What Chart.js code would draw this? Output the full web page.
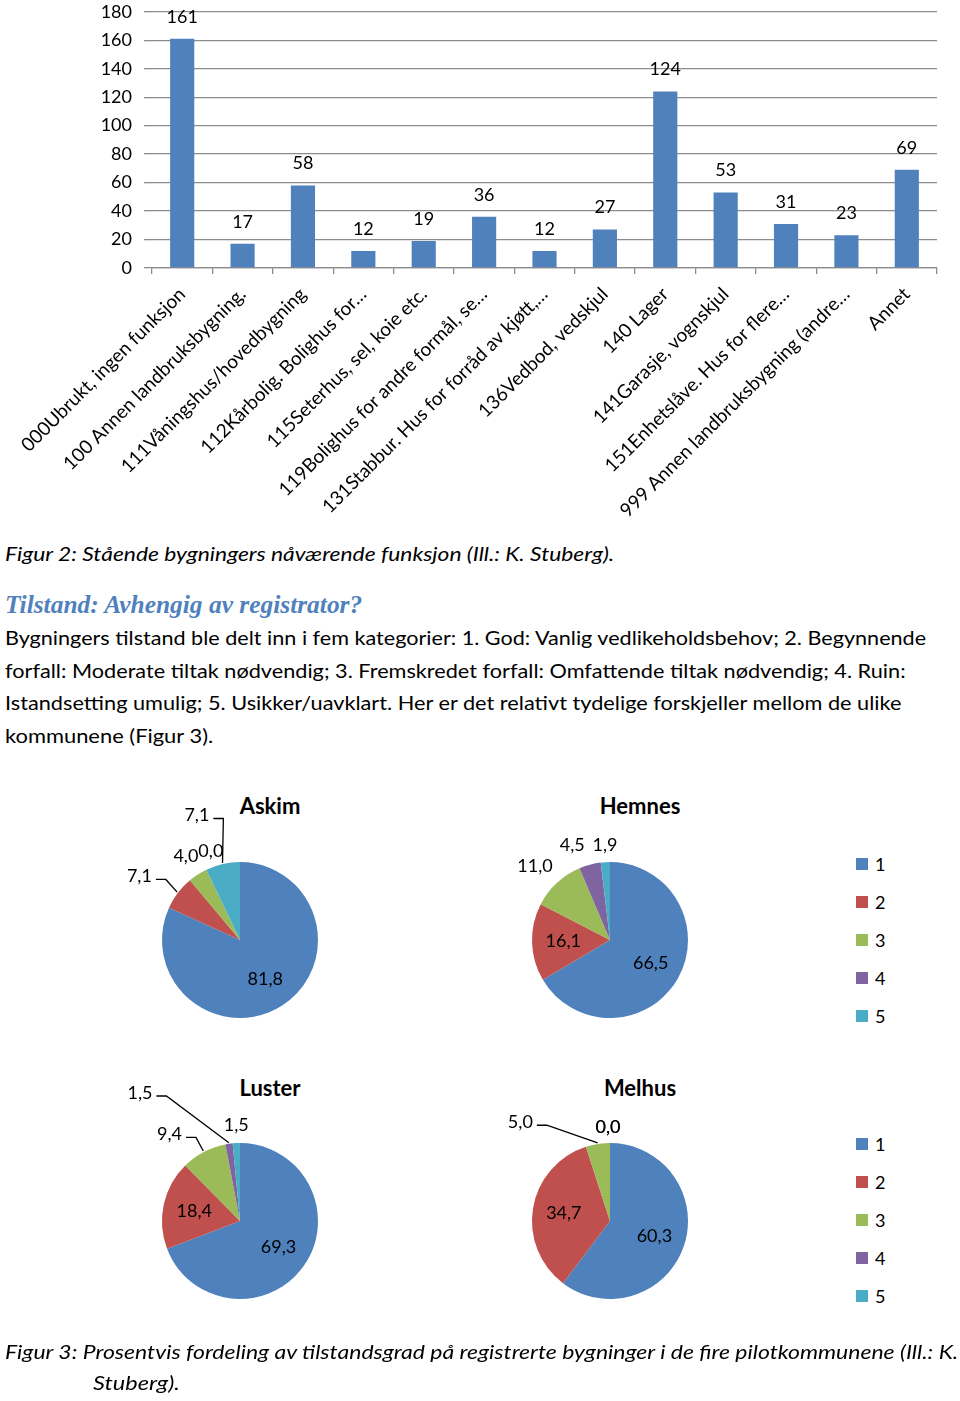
<!DOCTYPE html>
<html lang="no">
<head>
<meta charset="utf-8">
<title>Figur 2 og 3</title>
<script src="https://cdn.jsdelivr.net/npm/chart.js@4.4.1/dist/chart.umd.min.js"></script>
<style>
  html, body { margin: 0; padding: 0; background: #fff; }
  #side { position: relative; width: 960px; height: 1401px; overflow: hidden; font-family: Lato, "Open Sans", sans-serif; color: #000; }
  canvas { position: absolute; }
  .linje { position: absolute; left: 5px; white-space: nowrap; transform-origin: 0 50%; line-height: 30px; height: 30px; font-size: 20px; }
  .kursiv { font-style: italic; }
  .overskrift { font-family: "Liberation Serif", serif; font-weight: bold; font-style: italic; color: #4F81BD; font-size: 26px; }
  .tittel { position: absolute; font-weight: bold; font-size: 22px; line-height: 30px; transform: translateX(-50%); white-space: nowrap; }
  .forklaring { position: absolute; left: 856px; font-size: 18px; }
  .forklaring div { height: 38px; display: flex; align-items: center; }
  .forklaring span { display: inline-block; width: 12px; height: 12px; margin-right: 7px; }
</style>
</head>
<body>
<div id="side">
  <canvas id="stolper" width="960" height="537" style="left:0;top:-11px"></canvas>

  <div class="linje kursiv" style="top:538px" data-w="609">Figur 2: Stående bygningers nåværende funksjon (Ill.: K. Stuberg).</div>
  <div class="linje overskrift" style="top:590px" data-w="357">Tilstand: Avhengig av registrator?</div>
  <div class="linje" style="top:622px" data-w="921">Bygningers tilstand ble delt inn i fem kategorier: 1. God: Vanlig vedlikeholdsbehov; 2. Begynnende</div>
  <div class="linje" style="top:655px" data-w="901">forfall: Moderate tiltak nødvendig; 3. Fremskredet forfall: Omfattende tiltak nødvendig; 4. Ruin:</div>
  <div class="linje" style="top:687px" data-w="896">Istandsetting umulig; 5. Usikker/uavklart. Her er det relativt tydelige forskjeller mellom de ulike</div>
  <div class="linje" style="top:720px" data-w="208">kommunene (Figur 3).</div>

  <div class="tittel" style="left:270px;top:791px">Askim</div>
  <div class="tittel" style="left:640px;top:791px">Hemnes</div>
  <div class="tittel" style="left:270px;top:1073px">Luster</div>
  <div class="tittel" style="left:640px;top:1073px">Melhus</div>

  <canvas id="askim" width="320" height="320" style="left:80px;top:780px"></canvas>
  <canvas id="hemnes" width="320" height="320" style="left:450px;top:780px"></canvas>
  <canvas id="luster" width="320" height="320" style="left:80px;top:1061px"></canvas>
  <canvas id="melhus" width="320" height="320" style="left:450px;top:1061px"></canvas>

  <div class="forklaring" id="forklaring1" style="top:845px"></div>
  <div class="forklaring" id="forklaring2" style="top:1125px"></div>

  <div class="linje kursiv" style="top:1336px" data-w="953">Figur 3: Prosentvis fordeling av tilstandsgrad på registrerte bygninger i de fire pilotkommunene (Ill.: K.</div>
  <div class="linje kursiv" style="top:1367px;left:93px" data-w="87">Stuberg).</div>
</div>

<script>
// Figur 2: bygninger etter funksjon
const funksjoner = [
  "000Ubrukt, ingen funksjon",
  "100 Annen landbruksbygning.",
  "111Våningshus/hovedbygning",
  "112Kårbolig. Bolighus for…",
  "115Seterhus, sel, koie etc.",
  "119Bolighus for andre formål, se…",
  "131Stabbur. Hus for forråd av kjøtt,…",
  "136Vedbod, vedskjul",
  "140 Lager",
  "141Garasje, vognskjul",
  "151Enhetslåve. Hus for flere…",
  "999 Annen landbruksbygning (andre…",
  "Annet"
];
const antall = [161, 17, 58, 12, 19, 36, 12, 27, 124, 53, 31, 23, 69];
const yMaks = 180;
const ySteg = 20;

// Figur 3: tilstandsgrad i prosent per kommune
const grader = ["1", "2", "3", "4", "5"];
const askim = [81.8, 7.1, 4.0, 0.0, 7.1];
const hemnes = [66.5, 16.1, 11.0, 4.5, 1.9];
const luster = [69.3, 18.4, 9.4, 1.5, 1.5];
const melhus = [60.3, 34.7, 5.0, 0.0, 0.0];
const farger = ["#4F81BD", "#C0504D", "#9BBB59", "#8064A2", "#4BACC6"];

const FONT = "Lato";

// tall over stolpene
const stolpeTall = {
  id: "stolpeTall",
  afterDatasetsDraw(chart) {
    const ctx = chart.ctx;
    const meta = chart.getDatasetMeta(0);
    ctx.save();
    ctx.font = "18px " + FONT;
    ctx.fillStyle = "#000";
    ctx.textAlign = "center";
    ctx.textBaseline = "middle";
    meta.data.forEach((bar, i) => {
      ctx.fillText(String(chart.data.datasets[0].data[i]), bar.x, bar.y - 22);
    });
    ctx.restore();
  }
};

// etiketter på kakestykkene, små stykker utenfor (evt. med strek)
const kakeTall = {
  id: "kakeTall",
  afterDatasetsDraw(chart, args, opts) {
    const ctx = chart.ctx;
    const meta = chart.getDatasetMeta(0);
    const verdier = chart.data.datasets[0].data;
    const sum = verdier.reduce((a, b) => a + b, 0);
    const flytt = opts.flytt || {};
    ctx.save();
    ctx.font = "18px " + FONT;
    ctx.fillStyle = "#000";
    ctx.strokeStyle = "#000";
    ctx.lineWidth = 1.3;
    ctx.textAlign = "center";
    ctx.textBaseline = "middle";
    meta.data.forEach((arc, i) => {
      const p = arc.getProps(["x", "y", "startAngle", "endAngle", "outerRadius"], true);
      const midt = (p.startAngle + p.endAngle) / 2;
      const inni = verdier[i] / sum >= 0.12;
      const avstand = inni ? p.outerRadius * 0.6 : p.outerRadius + 22;
      let lx = p.x + Math.cos(midt) * avstand;
      let ly = p.y + Math.sin(midt) * avstand;
      const f = flytt[i];
      if (f) { lx += f[0]; ly += f[1]; }
      const tekst = verdier[i].toFixed(1).replace(".", ",");
      ctx.fillText(tekst, lx, ly);
      if (f && f[2]) {
        const w = ctx.measureText(tekst).width;
        const ex = p.x + Math.cos(midt) * (p.outerRadius + 1);
        const ey = p.y + Math.sin(midt) * (p.outerRadius + 1);
        ctx.beginPath();
        ctx.moveTo(lx + w / 2 + 4, ly + 3);
        ctx.lineTo(lx + w / 2 + 14, ly + 3);
        ctx.lineTo(ex, ey);
        ctx.stroke();
      }
    });
    ctx.restore();
  }
};

new Chart(document.getElementById("stolper"), {
  type: "bar",
  data: {
    labels: funksjoner,
    datasets: [{ data: antall, backgroundColor: "#4F81BD", barPercentage: 0.8, categoryPercentage: 0.5 }]
  },
  options: {
    responsive: false,
    animation: false,
    layout: { padding: { top: 0, right: 23, left: 0, bottom: 0 } },
    plugins: { legend: { display: false }, tooltip: { enabled: false } },
    scales: {
      x: {
        grid: { drawOnChartArea: false, tickLength: 6, color: "#8c8c8c", lineWidth: 1.3, offset: true },
        border: { color: "#8c8c8c", width: 1.3 },
        ticks: { autoSkip: false, maxRotation: 45, minRotation: 45, font: { family: FONT, size: 19 }, color: "#000", padding: 9 },
        afterFit: s => { s.height = 537 - 279; }
      },
      y: {
        min: 0, max: yMaks,
        grid: { color: "#8c8c8c", lineWidth: 1.3, tickLength: 8 },
        border: { display: false },
        ticks: { stepSize: ySteg, font: { family: FONT, size: 18 }, color: "#000", padding: 12 },
        afterFit: s => { s.width = 152; }
      }
    }
  },
  plugins: [stolpeTall]
});

function lagKake(id, verdier, flytt) {
  new Chart(document.getElementById(id), {
    type: "pie",
    data: { labels: grader, datasets: [{ data: verdier, backgroundColor: farger, borderWidth: 0 }] },
    options: {
      responsive: false,
      animation: false,
      layout: { padding: 82 },
      plugins: { legend: { display: false }, tooltip: { enabled: false }, kakeTall: { flytt } }
    },
    plugins: [kakeTall]
  });
}

lagKake("askim", askim, { 1: [-21, -3, 1], 3: [14, 1, 0], 4: [-21, -27, 1] });
lagKake("hemnes", hemnes, { 2: [-7, 0, 0], 3: [-12, 2, 0], 4: [1, 5, 0] });
lagKake("luster", luster, { 2: [-24, 2, 1], 3: [-86, -29, 1], 4: [1, 4, 0] });
lagKake("melhus", melhus, { 2: [-74, 0, 1], 3: [-2, 6, 0], 4: [-2, 6, 0] });

// forklaringer til høyre
["forklaring1", "forklaring2"].forEach(id => {
  const boks = document.getElementById(id);
  grader.forEach((g, i) => {
    const rad = document.createElement("div");
    rad.innerHTML = '<span style="background:' + farger[i] + '"></span>' + g;
    boks.appendChild(rad);
  });
});

// tilpass tekstlinjene til bredden i originalen
document.querySelectorAll(".linje[data-w]").forEach(el => {
  const naturlig = el.scrollWidth;
  const mål = Number(el.dataset.w);
  if (naturlig > 0) el.style.transform = "scaleX(" + (mål / naturlig) + ")";
});
</script>
</body>
</html>
